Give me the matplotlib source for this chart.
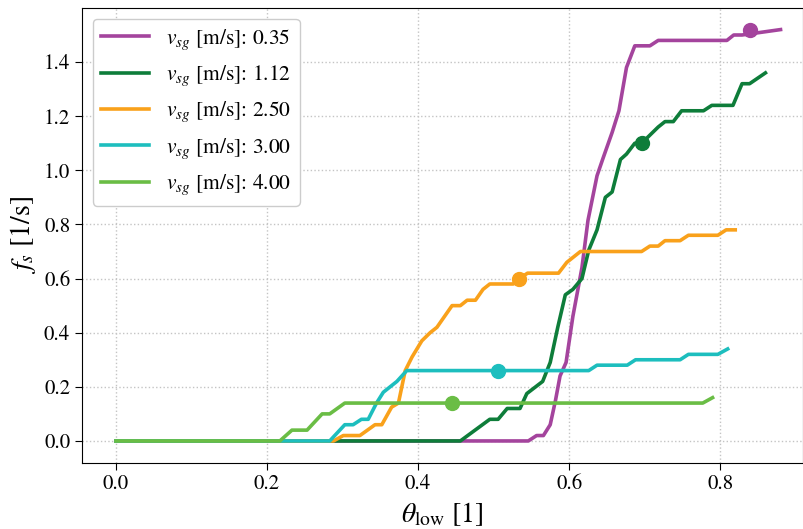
import matplotlib
matplotlib.use("Agg")
import matplotlib.pyplot as plt

plt.rcParams["font.family"] = ["STIXGeneral", "DejaVu Serif"]
plt.rcParams["mathtext.fontset"] = "stix"

# vsg = 0.35 m/s
x_035 = [0.0, 0.546, 0.557, 0.566, 0.575, 0.582, 0.588, 0.596, 0.605, 0.617, 0.625,
         0.637, 0.645, 0.657, 0.666, 0.676, 0.687, 0.707, 0.718, 0.809, 0.818, 0.829, 0.88]
y_035 = [0.0, 0.0, 0.02, 0.02, 0.06, 0.15, 0.24, 0.29, 0.46, 0.64, 0.815,
         0.98, 1.045, 1.14, 1.22, 1.38, 1.46, 1.46, 1.48, 1.48, 1.50, 1.50, 1.52]
# vsg = 1.12 m/s
x_112 = [0.0, 0.456, 0.495, 0.506, 0.518, 0.535, 0.544, 0.565, 0.575, 0.585, 0.595,
         0.605, 0.617, 0.626, 0.637, 0.648, 0.657, 0.668, 0.676, 0.687, 0.696, 0.707,
         0.718, 0.727, 0.738, 0.749, 0.778, 0.789, 0.817, 0.829, 0.839, 0.86]
y_112 = [0.0, 0.0, 0.08, 0.08, 0.12, 0.12, 0.175, 0.22, 0.29, 0.42, 0.54,
         0.56, 0.60, 0.705, 0.78, 0.90, 0.92, 1.04, 1.06, 1.10, 1.10, 1.13,
         1.16, 1.18, 1.18, 1.22, 1.22, 1.24, 1.24, 1.32, 1.32, 1.36]
# vsg = 2.50 m/s
x_250 = [0.0, 0.288, 0.301, 0.323, 0.343, 0.352, 0.365, 0.374, 0.383, 0.392, 0.405,
         0.416, 0.425, 0.445, 0.456, 0.465, 0.476, 0.486, 0.495, 0.526, 0.534, 0.545,
         0.586, 0.597, 0.615, 0.696, 0.707, 0.718, 0.727, 0.747, 0.758, 0.797, 0.808, 0.82]
y_250 = [0.0, 0.0, 0.02, 0.02, 0.06, 0.06, 0.125, 0.14, 0.26, 0.31, 0.37,
         0.40, 0.42, 0.50, 0.50, 0.52, 0.52, 0.56, 0.58, 0.58, 0.60, 0.62,
         0.62, 0.66, 0.70, 0.70, 0.72, 0.72, 0.74, 0.74, 0.76, 0.76, 0.78, 0.78]
# vsg = 3.00 m/s
x_300 = [0.0, 0.283, 0.303, 0.314, 0.325, 0.334, 0.345, 0.354, 0.372, 0.385, 0.626,
         0.637, 0.677, 0.688, 0.747, 0.758, 0.797, 0.81]
y_300 = [0.0, 0.0, 0.06, 0.06, 0.08, 0.08, 0.14, 0.18, 0.22, 0.26, 0.26,
         0.28, 0.28, 0.30, 0.30, 0.32, 0.32, 0.34]
# vsg = 4.00 m/s
x_400 = [0.0, 0.217, 0.233, 0.253, 0.273, 0.283, 0.303, 0.777, 0.79]
y_400 = [0.0, 0.0, 0.04, 0.04, 0.10, 0.10, 0.14, 0.14, 0.16]

labels = ["0.35", "1.12", "2.50", "3.00", "4.00"]
colors = ["#A4449D", "#0E7D3A", "#F9A11B", "#1DBEBE", "#6ABD45"]
marker_x = [0.839, 0.696, 0.534, 0.506, 0.445]
marker_y = [1.52, 1.10, 0.60, 0.26, 0.14]

curves = [(x_035, y_035), (x_112, y_112), (x_250, y_250), (x_300, y_300), (x_400, y_400)]

fig = plt.figure(figsize=(8.04, 5.29), dpi=100)
ax = fig.add_axes([0.102, 0.125, 0.897, 0.86])

for (xs, ys), lab, c, mx, my in zip(curves, labels, colors, marker_x, marker_y):
    ax.plot(xs, ys, color=c, linewidth=2.6, label=r"$v_{sg}$ [m/s]: " + lab)
    ax.plot(mx, my, "o", color=c, markersize=10)

ax.set_xlim(-0.045, 0.91)
ax.set_ylim(-0.081, 1.6)
ax.set_xticks([0.0, 0.2, 0.4, 0.6, 0.8])
ax.set_yticks([0.0, 0.2, 0.4, 0.6, 0.8, 1.0, 1.2, 1.4])
ax.tick_params(labelsize=15, length=5)
ax.grid(True, linestyle=":", color="#c4c4c4", linewidth=1.0)
ax.set_xlabel(r"$\theta_{\rm low}$ [1]", fontsize=20, labelpad=4)
ax.set_ylabel(r"$f_s$ [1/s]", fontsize=20, labelpad=4)
ax.legend(loc="upper left", fontsize=15.5, handlelength=2.2, labelspacing=0.55,
          framealpha=1.0)

fig.savefig("out.png", dpi=100)
